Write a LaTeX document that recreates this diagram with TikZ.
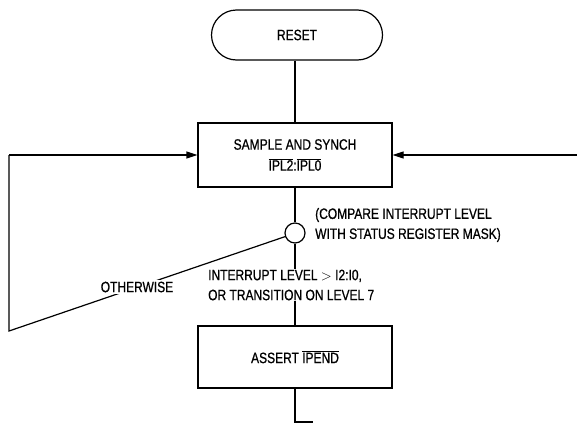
\documentclass[tikz,border=0pt]{standalone}
\usepackage{fontspec}
\setmainfont{Liberation Sans}[FakeStretch=0.8,FakeBold=0.8]
\usetikzlibrary{arrows.meta}
\newcommand\ovl[1]{$\overline{\hbox{#1}}$}
\begin{document}
\begin{tikzpicture}[x=1pt,y=-1pt,
  every node/.style={font=\fontsize{15}{20}\selectfont, inner sep=0pt},
  conn/.style={line width=1.2pt},
  arr/.style={conn,-{Triangle[length=11pt,width=7pt]}},
  boxst/.style={draw,line width=1.2pt,minimum width=194pt,minimum height=64pt},
  termst/.style={draw,line width=1.2pt,rounded corners=25pt,minimum width=171pt,minimum height=50pt}]
\useasboundingbox (0,0) rectangle (577,423);
\node[termst] (reset) at (297,35) {RESET};
\node[boxst,minimum height=64pt,align=center] (sample) at (295,155)
  {SAMPLE AND SYNCH\\[1pt]\ovl{IPL2}:\ovl{IPL0}};
\node[draw,circle,line width=1.2pt,minimum size=20pt] (dec) at (295,233) {};
\node[anchor=west,align=left] (cmp) at (315,225) {(COMPARE INTERRUPT LEVEL\\WITH STATUS REGISTER MASK)};
\node[anchor=west,align=left] (cond) at (208,285) {INTERRUPT LEVEL $\mathbf{>}$ I2:I0,\\OR TRANSITION ON LEVEL 7};
\node[boxst,minimum height=62pt] (assert) at (295,357) {ASSERT \ovl{IPEND}};
\coordinate (lc) at (9,331);
\coordinate (lt) at (9,155);
\coordinate (rin) at (577,155);
\coordinate (bend) at (295,422);
\coordinate (bout) at (313,422);
\draw[conn] (reset.south -| sample.north) -- (sample.north);
\draw[conn] (sample.south -| dec.north) -- (dec.north);
\draw[conn] (dec.south) -- (dec.south |- cond.north);
\draw[conn] (dec.south |- cond.south) -- (assert.north -| dec.south);
\draw[conn] (dec.200) -- (lc) -- (lt);
\node[fill=white,inner sep=2pt] (oth) at (137,287) {OTHERWISE};
\draw[arr] (lt) -- (sample.west);
\draw[arr] (rin) -- (sample.east);
\draw[conn] (assert.south) -- (bend) -- (bout);
\end{tikzpicture}
\end{document}
